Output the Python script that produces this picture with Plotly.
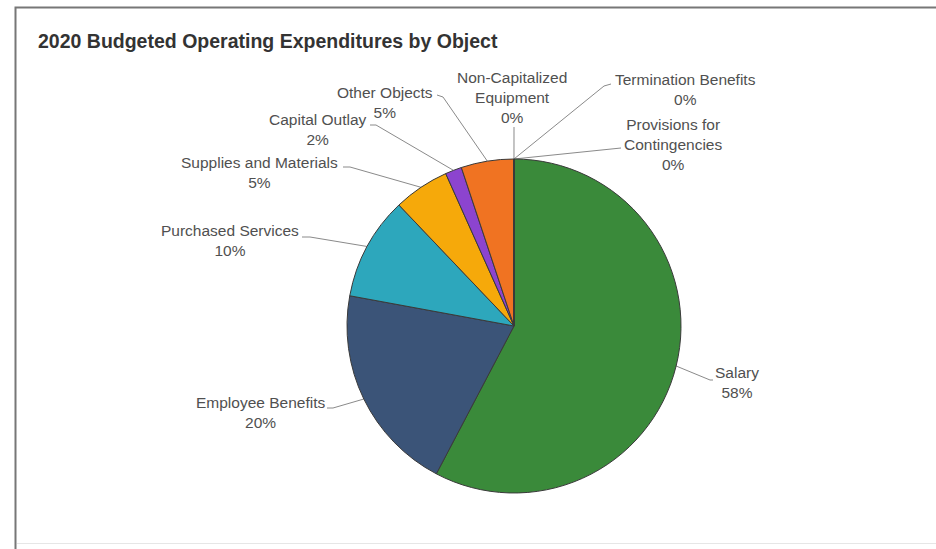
import math
import plotly.graph_objects as go

# Budget shares by object of expenditure (percent of total)
categories = [
    "Salary",
    "Employee Benefits",
    "Purchased Services",
    "Supplies and Materials",
    "Capital Outlay",
    "Other Objects",
    "Non-Capitalized Equipment",
    "Termination Benefits",
    "Provisions for Contingencies",
]
shares = [57.7, 20.2, 10.0, 5.4, 1.6, 5.1, 0.001, 0.001, 0.001]
colors = ["#3a8a3a", "#3b5478", "#2da7bc", "#f6a90a", "#8c44cf", "#f07322",
          "#c0c0c0", "#c0c0c0", "#c0c0c0"]

# Wrapped label text for the longer category names
wrapped = {
    "Non-Capitalized Equipment": "Non-Capitalized<br>Equipment",
    "Provisions for Contingencies": "Provisions for<br>Contingencies",
}

W, H = 936, 549
CX, CY, R = 514, 326, 167  # pie centre and radius in pixels

# Label layout: text block centre and connector end (pixels)
label_pos = [
    (737, 382), (260, 412), (230, 240), (259, 172), (318, 129),
    (385, 102), (512, 97), (685, 89), (673, 144),
]
connector_end = [
    [(710, 380), (713, 380)],
    [(333, 408), (327, 408)],
    [(310, 237), (302, 237)],
    [(350, 167), (343, 167)],
    [(376, 125), (370, 125)],
    [(443, 97), (437, 95)],
    [(514, 128), (514, 127)],
    [(604, 86), (611, 84)],
    [(608, 149), (621, 148)],
]

fig = go.Figure()

fig.add_trace(go.Pie(
    labels=categories,
    values=shares,
    sort=False,
    direction="clockwise",
    rotation=0,
    textinfo="none",
    hoverinfo="label+percent",
    marker=dict(colors=colors, line=dict(color="#3a3a3a", width=1)),
    domain=dict(x=[(CX - R) / W, (CX + R) / W],
                y=[(H - CY - R) / H, (H - CY + R) / H]),
    showlegend=False,
    automargin=False,
))

# Connector lines from each slice's outer edge to its label
total = sum(shares)
cum = 0.0
for i, (name, v) in enumerate(zip(categories, shares)):
    mid = (cum + v / 2) / total * 2 * math.pi
    cum += v
    sx = CX + R * math.sin(mid)
    sy = CY - R * math.cos(mid)
    pts = [(sx, sy)] + connector_end[i]
    fig.add_trace(go.Scatter(
        x=[p[0] for p in pts], y=[p[1] for p in pts],
        mode="lines", line=dict(color="#8a8a8a", width=1),
        hoverinfo="skip", showlegend=False, xaxis="x", yaxis="y",
    ))
    pct = round(v / total * 100)
    fig.add_annotation(
        x=label_pos[i][0], y=label_pos[i][1], xref="x", yref="y",
        text=f"{wrapped.get(name, name)}<br>{pct}%",
        showarrow=False, align="center", xanchor="center", yanchor="middle",
        font=dict(family="Liberation Sans, Arial, sans-serif", size=15.5, color="#505050"),
    )

# Title
fig.add_annotation(
    x=36, y=41, xref="x", yref="y", xanchor="left", yanchor="middle",
    text="<b>2020 Budgeted Operating Expenditures by Object</b>", showarrow=False,
    font=dict(family="Liberation Sans, Arial, sans-serif", size=19.5, color="#333333"),
)

# Card frame
fig.add_shape(type="rect", xref="paper", yref="paper",
              x0=15.5 / W, x1=1.02, y0=-0.02, y1=1 - 7.5 / H,
              line=dict(color="#777777", width=2), layer="below")
fig.add_shape(type="line", xref="paper", yref="paper",
              x0=17 / W, x1=1, y0=5.5 / H, y1=5.5 / H,
              line=dict(color="#e6e6e6", width=1), layer="below")

fig.update_layout(
    width=W, height=H,
    margin=dict(l=0, r=0, t=0, b=0),
    paper_bgcolor="white", plot_bgcolor="rgba(0,0,0,0)",
    xaxis=dict(range=[0, W], visible=False, fixedrange=True, domain=[0, 1]),
    yaxis=dict(range=[H, 0], visible=False, fixedrange=True, domain=[0, 1]),
)

fig.write_html("out.html")
